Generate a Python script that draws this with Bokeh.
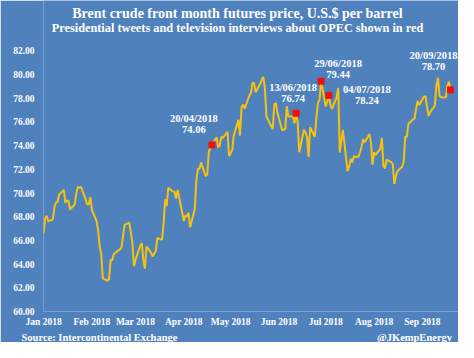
from datetime import datetime, timedelta

from bokeh.core.properties import value
from bokeh.embed import file_html
from bokeh.models import (ColumnDataSource, DatetimeTickFormatter, FixedTicker,
                          Label, NumeralTickFormatter, Range1d, Title)
from bokeh.plotting import figure
from bokeh.resources import INLINE

# ---------------- data ----------------
title_text = "Brent crude front month futures price, U.S.$ per barrel"
subtitle_text = "Presidential tweets and television interviews about OPEC shown in red"
source_text = "Source: Intercontinental Exchange"
credit_text = "@JKempEnergy"

jan_days = [2, 3, 4, 5, 8, 9, 10, 11, 12, 15, 16, 17, 18, 19, 22, 23, 24, 25, 26, 29, 30, 31]
jan_px = [66.57, 67.84, 68.07, 67.62, 67.78, 68.82, 69.20, 69.26, 69.87, 70.26, 69.15, 69.38,
          69.31, 68.61, 69.03, 69.96, 70.53, 70.42, 70.52, 69.46, 69.02, 69.05]
feb_days = [1, 2, 5, 6, 7, 8, 9, 12, 13, 14, 15, 16, 20, 21, 22, 23, 26, 27, 28]
feb_px = [69.65, 68.58, 67.62, 66.86, 65.51, 64.81, 62.79, 62.59, 62.72, 64.36, 64.33, 64.84,
          65.25, 65.42, 66.39, 67.31, 67.50, 66.63, 65.78]
mar_days = [1, 2, 5, 6, 7, 8, 9, 12, 13, 14, 15, 16, 19, 20, 21, 22, 23, 26, 27, 28, 29]
mar_px = [63.83, 64.37, 65.54, 65.79, 64.34, 63.61, 65.49, 64.95, 64.64, 64.89, 65.12, 66.21,
          66.05, 67.42, 69.47, 68.91, 70.45, 70.12, 70.11, 69.53, 70.27]
apr_days = [2, 3, 4, 5, 6, 9, 10, 11, 12, 13, 16, 17, 18, 19, 20, 23, 24, 25, 26, 27, 30]
apr_px = [67.64, 68.12, 68.02, 68.33, 67.11, 68.65, 71.04, 72.06, 72.02, 72.58, 71.42, 71.58,
          73.48, 73.78, 74.06, 74.71, 73.86, 74.00, 74.74, 74.64, 75.17]
may_days = [1, 2, 3, 4, 7, 8, 9, 10, 11, 14, 15, 16, 17, 18, 21, 22, 23, 24, 25, 29, 30, 31]
may_px = [73.13, 73.36, 73.62, 74.87, 76.17, 74.85, 77.21, 77.47, 77.12, 78.23, 78.43, 79.28,
          79.30, 78.51, 79.22, 79.57, 79.80, 78.79, 76.44, 75.39, 77.50, 77.59]
jun_days = [1, 4, 5, 6, 7, 8, 11, 12, 13, 14, 15, 18, 19, 20, 21, 22, 25, 26, 27, 28, 29]
jun_px = [76.79, 75.29, 75.38, 75.36, 77.32, 76.46, 76.46, 75.88, 76.74, 75.94, 73.44, 75.34,
          75.08, 74.74, 73.05, 75.55, 74.73, 76.31, 77.62, 77.85, 79.44]
jul_days = [2, 3, 4, 5, 6, 9, 10, 11, 12, 13, 16, 17, 18, 19, 20, 23, 24, 25, 26, 27, 30, 31]
jul_px = [77.30, 77.76, 78.24, 77.39, 77.11, 78.07, 78.86, 73.40, 74.45, 75.33, 71.84, 72.16,
          72.90, 72.58, 73.07, 73.06, 73.44, 73.93, 74.54, 74.29, 74.97, 74.25]
aug_days = [1, 2, 3, 6, 7, 8, 9, 10, 13, 14, 15, 16, 17, 20, 21, 22, 23, 24, 27, 28, 29, 30, 31]
aug_px = [72.39, 73.45, 73.21, 73.75, 74.65, 72.28, 72.07, 72.81, 72.61, 72.46, 70.76, 71.43,
          71.83, 72.21, 72.63, 74.78, 74.73, 75.82, 76.21, 76.31, 77.14, 77.77, 77.42]
sep_days = [3, 4, 5, 6, 7, 10, 11, 12, 13, 14, 17, 18, 19, 20]
sep_px = [78.15, 78.17, 77.27, 76.50, 76.83, 77.37, 79.06, 79.74, 78.18, 78.09, 78.05, 79.03,
          79.40, 78.70]

event_dates = ["2018-04-20", "2018-06-13", "2018-06-29", "2018-07-04", "2018-09-20"]
event_px = [74.06, 76.74, 79.44, 78.24, 78.70]

y_ticks = [60, 62, 64, 66, 68, 70, 72, 74, 76, 78, 80, 82]
x_tick_dates = ["2018-01-02", "2018-02-02", "2018-03-02", "2018-04-02", "2018-05-02",
                "2018-06-02", "2018-07-02", "2018-08-02", "2018-09-02"]

# ---------------- build sources ----------------
months = [(1, jan_days, jan_px), (2, feb_days, feb_px), (3, mar_days, mar_px),
          (4, apr_days, apr_px), (5, may_days, may_px), (6, jun_days, jun_px),
          (7, jul_days, jul_px), (8, aug_days, aug_px), (9, sep_days, sep_px)]
dates, prices = [], []
for m, days, px in months:
    dates += [datetime(2018, m, d) for d in days]
    prices += px

ev_dt = [datetime.strptime(s, "%Y-%m-%d") for s in event_dates]
# label placement (pixel offsets from each red marker)
dx = [-18, -3, 17, 38, -17]
dy1 = [-26, -26, -18, -6, -34]
dy2 = [-15, -15, -7, 5, -23]
ev_src = ColumnDataSource(dict(
    x=ev_dt, y=event_px,
    d=[d.strftime("%d/%m/%Y") for d in ev_dt],
    v=[f"{v:.2f}" for v in event_px],
    dx=dx, dy1=dy1, dy2=dy2,
))

BG = "#4f81bd"
FONT = "Liberation Serif"

W, H = 458, 342
LEFT, BOTTOM = 43, 31          # frame borders (px)
PX_PER_UNIT = 11.85            # vertical scale, px per dollar
PX_PER_DAY = 1.559             # horizontal scale
x0 = datetime(2018, 1, 2) - timedelta(hours=1)
x1 = x0 + timedelta(days=(W - LEFT) / PX_PER_DAY)
y_top = 60 + (H - BOTTOM) / PX_PER_UNIT   # frame reaches the canvas top (title area)

p = figure(width=W, height=H, x_axis_type="datetime", title=None,
           output_backend="svg", toolbar_location=None,
           background_fill_color=BG, border_fill_color=BG, outline_line_color=None,
           min_border_left=LEFT, min_border_right=0, min_border_top=0,
           min_border_bottom=BOTTOM,
           x_range=Range1d(x0, x1), y_range=Range1d(60, y_top))

p.grid.visible = False

p.line(dates, prices, line_color="#f5c211", line_width=2)
p.scatter("x", "y", source=ev_src, marker="square", size=6,
          fill_color="#ee1111", line_color="#ee1111")
p.text("x", "y", text="d", source=ev_src, x_offset="dx", y_offset="dy1",
       text_align="center", text_baseline="middle", text_color="white",
       text_font=value(FONT), text_font_style="bold", text_font_size="10.5px")
p.text("x", "y", text="v", source=ev_src, x_offset="dx", y_offset="dy2",
       text_align="center", text_baseline="middle", text_color="white",
       text_font=value(FONT), text_font_style="bold", text_font_size="10.5px")

# axes
xa = p.xaxis[0]
xa.ticker = FixedTicker(ticks=[datetime.strptime(s, "%Y-%m-%d").timestamp() * 1000
                               for s in x_tick_dates])
fmt = "%b %Y"
xa.formatter = DatetimeTickFormatter(days=fmt, months=fmt, years=fmt, hours=fmt,
                                     microseconds=fmt, milliseconds=fmt, seconds=fmt,
                                     minsec=fmt, minutes=fmt, hourmin=fmt)
ya = p.yaxis[0]
ya.ticker = FixedTicker(ticks=y_ticks)
ya.formatter = NumeralTickFormatter(format="0.00")
for ax in (xa, ya):
    ax.axis_line_color = None
    ax.major_tick_line_color = None
    ax.minor_tick_line_color = None
    ax.major_tick_out = 0
    ax.major_tick_in = 0
    ax.minor_tick_out = 0
    ax.major_label_text_color = "white"
    ax.major_label_text_font = FONT
    ax.major_label_text_font_style = "bold"
    ax.major_label_text_font_size = "9.5px"
xa.major_label_standoff = 5
ya.major_label_standoff = 9

# title + subtitle inside the (extended) frame, screen units from frame bottom-left
for txt, y, size in [(title_text, H - BOTTOM - 13, "14px"),
                     (subtitle_text, H - BOTTOM - 27, "12.3px")]:
    p.add_layout(Label(x=237 - LEFT, y=y, x_units="screen", y_units="screen", text=txt,
                       text_align="center", text_baseline="middle", text_color="white",
                       text_font=FONT, text_font_style="bold", text_font_size=size))

# footer line below the axis
gap = "\u00a0" * 76
p.add_layout(Title(text=source_text + gap + credit_text, align="left", offset=21 - LEFT,
                   standoff=0, text_color="white", text_font=FONT,
                   text_font_style="bold", text_font_size="10.5px"), "below")

open("out.html", "w").write(file_html(p, INLINE))
